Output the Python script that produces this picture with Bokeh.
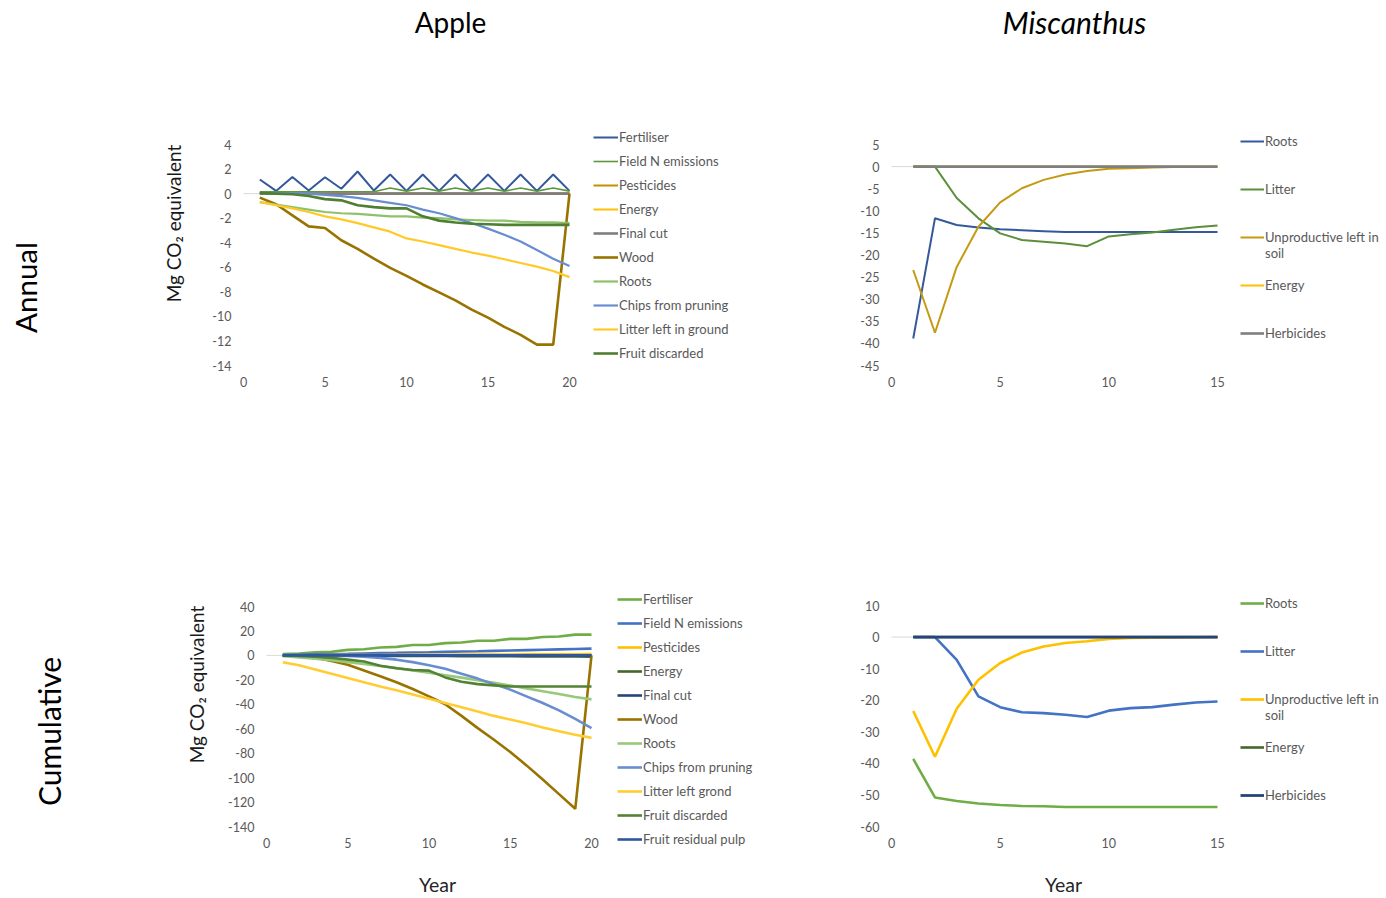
from math import pi
from bokeh.plotting import figure
from bokeh.models import Range1d, FixedTicker, Legend, LegendItem
from bokeh.core.properties import value
from bokeh.layouts import column, row
from bokeh.embed import file_html
from bokeh.resources import INLINE

FONT = "Lato"

# ---------------- data ----------------
years20 = list(range(1, 21))
years15 = list(range(1, 16))

# Apple - annual
aa_names = ["Fertiliser", "Field N emissions", "Pesticides", "Energy", "Final cut", "Wood",
            "Roots", "Chips from pruning", "Litter left in ground", "Fruit discarded"]
aa_fertiliser = [1.15, 0.22, 1.35, 0.25, 1.33, 0.4, 1.8, 0.25, 1.55, 0.22,
                 1.55, 0.22, 1.55, 0.22, 1.55, 0.22, 1.55, 0.22, 1.55, 0.22]
aa_fieldn = [0.15, 0.15, 0.15, 0.15, 0.15, 0.15, 0.15, 0.15, 0.45, 0.2,
             0.45, 0.2, 0.45, 0.2, 0.45, 0.2, 0.45, 0.2, 0.45, 0.2]
aa_pesticides = [0.03] * 20
aa_energy = [-0.03] * 20
aa_finalcut = [0.0] * 20
aa_wood = [-0.33, -0.87, -1.77, -2.67, -2.8, -3.8, -4.5, -5.3, -6.05, -6.7,
           -7.4, -8.05, -8.7, -9.45, -10.1, -10.85, -11.5, -12.3, -12.3, 0.0]
aa_roots = [-0.7, -0.9, -1.1, -1.3, -1.5, -1.6, -1.65, -1.75, -1.85, -1.85,
            -1.95, -2.0, -2.1, -2.15, -2.2, -2.2, -2.3, -2.35, -2.35, -2.4]
aa_chips = [0.05, 0.05, 0.05, 0.0, -0.1, -0.2, -0.35, -0.55, -0.75, -0.95,
            -1.3, -1.6, -2.0, -2.4, -2.85, -3.35, -3.9, -4.6, -5.3, -5.9]
aa_litter = [-0.7, -0.95, -1.2, -1.5, -1.85, -2.1, -2.4, -2.75, -3.1, -3.65,
             -3.9, -4.2, -4.5, -4.8, -5.05, -5.35, -5.65, -5.95, -6.3, -6.8]
aa_fruit = [0.05, 0.0, -0.05, -0.2, -0.45, -0.55, -0.95, -1.1, -1.2, -1.2,
            -1.85, -2.2, -2.35, -2.45, -2.5, -2.55, -2.55, -2.55, -2.55, -2.55]
aa_series = [aa_fertiliser, aa_fieldn, aa_pesticides, aa_energy, aa_finalcut, aa_wood,
             aa_roots, aa_chips, aa_litter, aa_fruit]
aa_colors = ["#35589A", "#5B9A3C", "#BF9000", "#FFC000", "#7F7F7F", "#997300",
             "#8DC26A", "#698ED0", "#FFCA28", "#4F7F31"]
aa_widths = [2, 1.6, 2, 2, 2.6, 2.6, 2.2, 2.2, 2.2, 2.6]

# Apple - cumulative
ac_names = ["Fertiliser", "Field N emissions", "Pesticides", "Energy", "Final cut", "Wood",
            "Roots", "Chips from pruning", "Litter left grond", "Fruit discarded",
            "Fruit residual pulp"]
ac_fertiliser = [1, 1.5, 2.5, 3, 4.5, 5, 6.5, 7, 8.5, 8.5,
                 10, 10.5, 12, 12, 13.5, 13.5, 15, 15.5, 17, 17]
ac_fieldn = [0.2, 0.5, 0.8, 1.1, 1.3, 1.6, 1.9, 2.1, 2.4, 2.6,
             2.9, 3.2, 3.4, 3.7, 4.0, 4.3, 4.6, 4.9, 5.2, 5.5]
ac_pesticides = [0.05, 0.1, 0.15, 0.2, 0.25, 0.3, 0.35, 0.4, 0.45, 0.5,
                 0.55, 0.6, 0.65, 0.7, 0.75, 0.8, 0.85, 0.9, 0.95, 1.0]
ac_energy = [-0.05, -0.1, -0.15, -0.2, -0.25, -0.3, -0.35, -0.4, -0.45, -0.5,
             -0.55, -0.6, -0.65, -0.7, -0.75, -0.8, -0.85, -0.9, -0.95, -1.0]
ac_finalcut = [0.0] * 20
ac_wood = [0, -0.5, -2, -4.5, -7.6, -12.3, -17, -22, -27.5, -33.5,
           -40, -49.5, -59.5, -69, -79, -90, -101.5, -113.5, -125.5, 0]
ac_roots = [-0.7, -1.6, -2.7, -4, -5.5, -7, -8.7, -10.4, -12.3, -14.2,
            -16.2, -18.2, -20.3, -22.5, -24.7, -27, -29.3, -31.6, -34, -36]
ac_chips = [0, 0, 0, 0, -0.5, -1, -2, -3.5, -5.5, -8,
            -11, -15, -19, -23.5, -28, -33.5, -39, -45, -52, -59.5]
ac_litter = [-5.6, -8, -11.5, -15, -18.5, -22, -25.5, -28.5, -32, -35.5,
             -39, -42.5, -46, -49.5, -52.5, -55.5, -59, -62, -65, -67.5]
ac_fruit = [0, -0.5, -1, -2, -3.5, -5, -8.5, -10.5, -12, -12.5,
            -18, -21.5, -23.5, -24.5, -25.5, -25.5, -25.5, -25.5, -25.5, -25.5]
ac_pulp = [0.0] * 20
ac_series = [ac_fertiliser, ac_fieldn, ac_pesticides, ac_energy, ac_finalcut, ac_wood,
             ac_roots, ac_chips, ac_litter, ac_fruit, ac_pulp]
ac_colors = ["#70AD47", "#4472C4", "#FFC000", "#43682B", "#264478", "#997300",
             "#98C97A", "#698ED0", "#FFCD33", "#548235", "#2E57A0"]
ac_widths = [2.6] * 11

# Miscanthus - annual
m_names = ["Roots", "Litter", "Unproductive left in", "Energy", "Herbicides"]
ma_roots = [-38.9, -11.7, -13.2, -13.8, -14.2, -14.4, -14.6, -14.8, -14.8, -14.8,
            -14.8, -14.8, -14.8, -14.8, -14.8]
ma_litter = [0, 0, -7.1, -11.7, -15.1, -16.6, -17.0, -17.4, -18.0, -15.8,
             -15.3, -14.9, -14.3, -13.7, -13.3]
ma_unprod = [-23.4, -37.6, -22.7, -13.6, -8.1, -4.9, -3.0, -1.8, -1.0, -0.5,
             -0.4, -0.2, -0.1, -0.1, -0.05]
ma_energy = [0.0] * 15
ma_herb = [0.0] * 15
ma_series = [ma_roots, ma_litter, ma_unprod, ma_energy, ma_herb]
ma_colors = ["#35589A", "#5B8F3A", "#C59A13", "#FFC000", "#7F7F7F"]
ma_widths = [2, 2, 2, 2, 2.6]

# Miscanthus - cumulative
mc_roots = [-38.6, -50.8, -51.9, -52.7, -53.2, -53.5, -53.6, -53.8, -53.8, -53.8,
            -53.8, -53.8, -53.8, -53.8, -53.8]
mc_litter = [0, 0, -7.2, -18.8, -22.2, -23.8, -24.1, -24.6, -25.3, -23.3,
             -22.5, -22.2, -21.4, -20.7, -20.4]
mc_unprod = [-23.4, -37.9, -22.7, -13.5, -8.2, -4.9, -3.0, -1.9, -1.3, -0.6,
             -0.3, -0.2, -0.1, -0.05, 0.0]
mc_energy = [0.0] * 15
mc_herb = [0.0] * 15
mc_series = [mc_roots, mc_litter, mc_unprod, mc_energy, mc_herb]
mc_colors = ["#70AD47", "#4472C4", "#FFC000", "#43682B", "#264478"]
mc_widths = [2.6, 2.6, 2.6, 2.6, 2.8]

x_ticks_apple = [0, 5, 10, 15, 20]
x_ticks_misc = [0, 5, 10, 15]
y_ticks_aa = [-14, -12, -10, -8, -6, -4, -2, 0, 2, 4]
y_ticks_ac = [-140, -120, -100, -80, -60, -40, -20, 0, 20, 40]
y_ticks_ma = [-45, -40, -35, -30, -25, -20, -15, -10, -5, 0, 5]
y_ticks_mc = [-60, -50, -40, -30, -20, -10, 0, 10]

ylabel = "Mg CO\u2082 equivalent"


# ---------------- helpers ----------------
def make_panel(fig_box, plot_box, xticks, yticks):
    """fig_box / plot_box = (left, top, right, bottom) in page pixels.
    The frame fills the whole figure; ranges are set so that the tick extents
    land on plot_box, and axes are pinned at the lower / left tick values."""
    fl, ft, fr, fb = fig_box
    pl, pt, pr, pb = plot_box
    x0, x1 = xticks[0], xticks[-1]
    y0, y1 = yticks[0], yticks[-1]
    sx = (pr - pl) / (x1 - x0)
    sy = (pb - pt) / (y1 - y0)
    xr = Range1d(x0 - (pl - fl) / sx, x1 + (fr - pr) / sx)
    yr = Range1d(y0 - (fb - pb) / sy, y1 + (pt - ft) / sy)
    p = figure(width=fr - fl, height=fb - ft, x_range=xr, y_range=yr,
               output_backend="svg", toolbar_location=None, title=None,
               min_border_left=0, min_border_right=0, min_border_top=0,
               min_border_bottom=0)
    p.outline_line_color = None
    p.background_fill_color = "white"
    p.border_fill_color = "white"
    p.grid.visible = False
    for ax, ticks in ((p.xaxis[0], xticks), (p.yaxis[0], yticks)):
        ax.ticker = FixedTicker(ticks=ticks)
        ax.major_label_overrides = {t: str(t) for t in ticks}
        ax.axis_line_color = None
        ax.major_tick_line_color = None
        ax.minor_tick_line_color = None
        ax.major_tick_out = 0
        ax.major_tick_in = 0
        ax.minor_tick_out = 0
        ax.minor_tick_in = 0
        ax.major_label_text_font = FONT
        ax.major_label_text_font_size = "12.5px"
        ax.major_label_text_color = "#595959"
    p.xaxis[0].fixed_location = y0
    p.yaxis[0].fixed_location = x0
    p.xaxis[0].major_label_standoff = 11
    p.yaxis[0].major_label_standoff = 12
    # horizontal category-axis line at zero, across the tick extent
    p.line([x0, x1], [0, 0], line_color="#D9D9D9", line_width=1)
    return p


def text_fig(fig_box):
    fl, ft, fr, fb = fig_box
    p = figure(width=fr - fl, height=fb - ft, x_range=Range1d(fl, fr),
               y_range=Range1d(fb, ft),
               output_backend="svg", toolbar_location=None, title=None,
               x_axis_location=None, y_axis_location=None,
               min_border_left=0, min_border_right=0, min_border_top=0, min_border_bottom=0)
    p.outline_line_color = None
    p.grid.visible = False
    p.background_fill_color = "white"
    p.border_fill_color = "white"
    return p


def put_text(p, xs, ys, texts, size, angle=0.0, color="#000000", style="normal"):
    p.text(x=xs, y=ys, text=texts, angle=angle, text_align="center",
           text_baseline="middle", text_font=value(FONT), text_font_size=value(size),
           text_color=color, text_font_style=style)


def add_lines(p, xs, series, colors, widths):
    return [p.line(xs, ys, line_color=c, line_width=w)
            for ys, c, w in zip(series, colors, widths)]


def make_legend(items, fig_box, left, bottom, spacing, glyph_w, glyph_h):
    fl, ft, fr, fb = fig_box
    return Legend(items=items, location=(left - fl, fb - bottom), padding=0, margin=0,
                  spacing=spacing, glyph_width=glyph_w, glyph_height=glyph_h,
                  label_height=glyph_h, label_standoff=1, border_line_alpha=0,
                  background_fill_alpha=0, label_text_font=FONT,
                  label_text_font_size="13px", label_text_color="#595959")


def apple_legend(p, fig_box, names, rs, left, top):
    items = [LegendItem(label=n, renderers=[r]) for n, r in zip(names, rs)]
    bottom = top + 20 * len(items) + 4 * (len(items) - 1)
    p.add_layout(make_legend(items, fig_box, left, bottom, 4, 25, 20))


def misc_legend(p, fig_box, names, rs, left, top):
    # rows on a 16 px grid: entries at rows 0, 3, 6, (7 = "soil"), 9, 12
    ghost = p.line([], [], line_alpha=0)
    slots = {0: 0, 3: 1, 6: 2, 9: 3, 12: 4}
    items = []
    for k in range(13):
        if k in slots:
            i = slots[k]
            items.append(LegendItem(label=names[i], renderers=[rs[i]]))
        elif k == 7:
            items.append(LegendItem(label="soil", renderers=[ghost]))
        else:
            items.append(LegendItem(label=" ", renderers=[ghost]))
    bottom = top + 16 * 13
    p.add_layout(make_legend(items, fig_box, left, bottom, 0, 24, 16))


# ---------------- title strip ----------------
T_BOX = (0, 0, 1384, 44)
t_fig = text_fig(T_BOX)
put_text(t_fig, [450], [21], ["Apple"], "28px")
put_text(t_fig, [1074], [21], ["Miscanthus"], "30px", style="italic")

# ---------------- row 1 ----------------
L1_BOX = (0, 44, 205, 470)
l1 = text_fig(L1_BOX)
put_text(l1, [25], [287], ["Annual"], "29.5px", angle=pi / 2)
put_text(l1, [173], [223], [ylabel], "19px", angle=pi / 2, color="#1a1a1a")

A1_BOX = (205, 44, 840, 470)
p1 = make_panel(A1_BOX, (243, 144, 569, 365), x_ticks_apple, y_ticks_aa)
r1 = add_lines(p1, years20, aa_series, aa_colors, aa_widths)
apple_legend(p1, A1_BOX, aa_names, r1, 593, 127)

M1_BOX = (840, 44, 1384, 470)
p2 = make_panel(M1_BOX, (891, 144, 1217, 365), x_ticks_misc, y_ticks_ma)
r2 = add_lines(p2, years15, ma_series, ma_colors, ma_widths)
misc_legend(p2, M1_BOX, m_names, r2, 1240, 133)

# ---------------- row 2 ----------------
L2_BOX = (0, 470, 220, 866)
l2 = text_fig(L2_BOX)
put_text(l2, [48], [731], ["Cumulative"], "30px", angle=pi / 2)
put_text(l2, [196], [684], [ylabel], "19px", angle=pi / 2, color="#1a1a1a")

A2_BOX = (220, 470, 840, 866)
p3 = make_panel(A2_BOX, (266, 606, 591, 826), x_ticks_apple, y_ticks_ac)
r3 = add_lines(p3, years20, ac_series, ac_colors, ac_widths)
apple_legend(p3, A2_BOX, ac_names, r3, 617, 589)

M2_BOX = (840, 470, 1384, 866)
p4 = make_panel(M2_BOX, (891, 605, 1217, 826), x_ticks_misc, y_ticks_mc)
r4 = add_lines(p4, years15, mc_series, mc_colors, mc_widths)
misc_legend(p4, M2_BOX, m_names, r4, 1240, 595)

# ---------------- bottom strip ----------------
B_BOX = (0, 866, 1384, 896)
b_fig = text_fig(B_BOX)
put_text(b_fig, [437, 1063], [884, 884], ["Year", "Year"], "19.5px", color="#262626")

layout = column(t_fig, row(l1, p1, p2), row(l2, p3, p4), b_fig)
open("out.html", "w").write(file_html(layout, INLINE))
